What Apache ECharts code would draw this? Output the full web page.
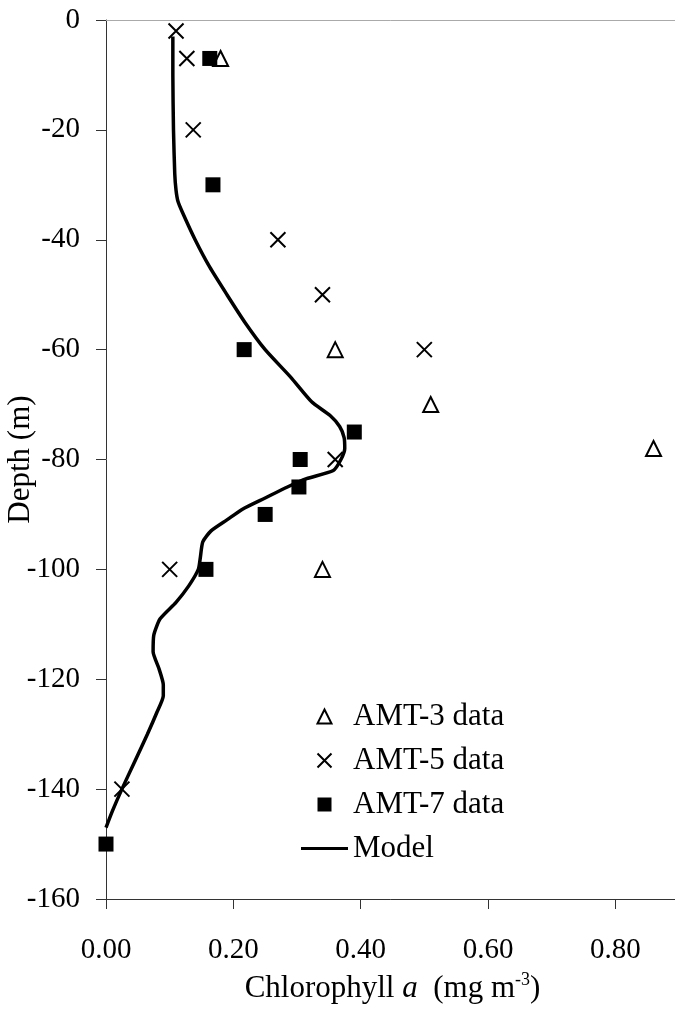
<!DOCTYPE html>
<html>
<head>
<meta charset="utf-8">
<script src="https://cdn.jsdelivr.net/npm/echarts@6/dist/echarts.min.js"></script>
<style>
  html, body { margin: 0; padding: 0; background: #fff; }
  #chart { width: 675px; height: 1016px; }
</style>
</head>
<body>
<div id="chart"></div>
<script>
// AMT-3 data: chlorophyll, depth
var amt3Chl = [0.18, 0.36, 0.51, 0.86, 0.34];
var amt3Depth = [-7, -60, -70, -78, -100];

// AMT-5 data
var amt5Chl = [0.11, 0.127, 0.137, 0.27, 0.34, 0.50, 0.36, 0.10, 0.025];
var amt5Depth = [-2, -7, -20, -40, -50, -60, -80, -100, -140];

// AMT-7 data
var amt7Chl = [0.163, 0.168, 0.217, 0.39, 0.305, 0.303, 0.25, 0.157, 0.0];
var amt7Depth = [-7, -30, -60, -75, -80, -85, -90, -100, -150];

// model profile
var modelDepth = [-3, -10, -20, -28, -31, -33, -35, -40, -45, -50, -55, -60, -65, -69.5, -72, -74, -76, -78, -80, -82, -83.5, -85, -87, -89, -91, -93, -95, -98, -100, -103, -106, -109, -112, -115, -118, -121, -123, -126, -130, -135, -140, -144, -147];
var modelChl = [0.105, 0.105, 0.106, 0.108, 0.110, 0.113, 0.12, 0.14, 0.163, 0.19, 0.218, 0.25, 0.29, 0.323, 0.352, 0.367, 0.374, 0.375, 0.369, 0.357, 0.315, 0.285, 0.25, 0.215, 0.19, 0.165, 0.152, 0.148, 0.145, 0.13, 0.11, 0.085, 0.075, 0.074, 0.083, 0.09, 0.09, 0.08, 0.065, 0.045, 0.025, 0.01, 0];

function pairs(xs, ys) {
  var out = [];
  for (var i = 0; i < xs.length; i++) out.push([xs[i], ys[i]]);
  return out;
}

var font = "'Liberation Serif', 'Times New Roman', serif";
var triangle = "path://M5,0L10,10L0,10Z";
var cross = "path://M0,0L10,10M10,0L0,10";
var square = "path://M0,0H10V10H0Z";

var chart = echarts.init(document.getElementById("chart"));
chart.setOption({
  backgroundColor: "#fff",
  animation: false,
  grid: {
    left: 106,
    top: 20,
    width: 573,
    height: 879,
    outerBoundsMode: "none"
  },
  legend: {
    orient: "vertical",
    left: 296,
    top: 696,
    itemWidth: 47,
    itemHeight: 14,
    itemGap: 13,
    symbolKeepAspect: true,
    textStyle: { fontFamily: font, fontSize: 31, color: "#000" },
    data: [
      { name: "AMT-3 data" },
      { name: "AMT-5 data" },
      { name: "AMT-7 data" },
      { name: "Model", icon: "path://M0,0H47V3H0Z", itemStyle: { color: "#000", borderWidth: 0 } }
    ]
  },
  xAxis: [{
    type: "value",
    min: 0,
    max: 0.9,
    interval: 0.2,
    name: "Chlorophyll {i|a}  (mg m{sup|-3})",
    nameLocation: "middle",
    nameGap: 72,
    nameMoveOverlap: false,
    nameTextStyle: {
      fontFamily: font, fontSize: 31, color: "#000", lineHeight: 36,
      rich: {
        i: { fontFamily: font, fontSize: 31, fontStyle: "italic", color: "#000", lineHeight: 36 },
        sup: { fontFamily: font, fontSize: 18, color: "#000", verticalAlign: "top", lineHeight: 36 }
      }
    },
    axisLine: { onZero: false, lineStyle: { color: "#333", width: 1 } },
    axisTick: { show: true, length: 10, lineStyle: { color: "#333" } },
    axisLabel: {
      margin: 37,
      showMaxLabel: false,
      fontFamily: font, fontSize: 29, color: "#000",
      formatter: function (v) { return v.toFixed(2); }
    },
    splitLine: { show: false }
  }, {
    type: "value",
    position: "top",
    min: 0,
    max: 0.9,
    axisLine: { show: true, lineStyle: { color: "#aaa", width: 1 } },
    axisTick: { show: false },
    axisLabel: { show: false },
    splitLine: { show: false }
  }],
  yAxis: {
    type: "value",
    min: -160,
    max: 0,
    interval: 20,
    name: "Depth (m)",
    nameLocation: "middle",
    nameGap: 70,
    nameMoveOverlap: false,
    nameTextStyle: { fontFamily: font, fontSize: 31, color: "#000" },
    axisLine: { show: true, onZero: false, lineStyle: { color: "#333", width: 1 } },
    axisTick: { show: true, length: 10, lineStyle: { color: "#333" } },
    axisLabel: { margin: 26, fontFamily: font, fontSize: 29, color: "#000" },
    splitLine: { show: false }
  },
  series: [
    {
      name: "Model",
      type: "line",
      data: pairs(modelChl, modelDepth),
      symbol: "none",
      smooth: 0.2,
      lineStyle: { color: "#000", width: 3.5 },
      itemStyle: { color: "#000" },
      z: 1
    },
    {
      name: "AMT-3 data",
      type: "scatter",
      data: pairs(amt3Chl, amt3Depth),
      symbol: triangle,
      symbolSize: 15,
      itemStyle: { color: "#fff", borderColor: "#000", borderWidth: 2, opacity: 1 },
      z: 3
    },
    {
      name: "AMT-5 data",
      type: "scatter",
      data: pairs(amt5Chl, amt5Depth),
      symbol: cross,
      symbolSize: 15,
      itemStyle: { color: "rgba(0,0,0,0)", borderColor: "#000", borderWidth: 2, opacity: 1 },
      z: 3
    },
    {
      name: "AMT-7 data",
      type: "scatter",
      data: pairs(amt7Chl, amt7Depth),
      symbol: square,
      symbolSize: 15,
      itemStyle: { color: "#000", opacity: 1 },
      z: 3
    }
  ]
});
</script>
</body>
</html>
